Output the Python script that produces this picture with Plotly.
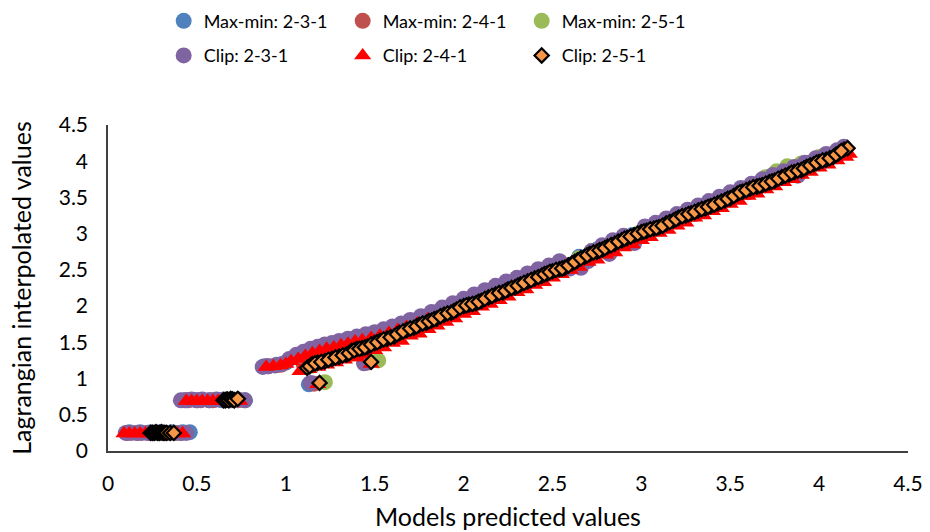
import plotly.graph_objects as go

# ---------------- Max-min normalisation ----------------
mm231_x = [0.12, 0.18, 0.24, 0.30, 0.36, 0.42, 0.46,
           0.43, 0.50, 0.57, 0.64, 0.71, 0.77,
           0.88, 0.95, 1.00,
           1.13, 1.45,
           1.05, 1.15, 1.25, 1.35, 1.45, 1.55, 1.65, 1.75, 1.85, 1.95,
           2.05, 2.15, 2.25, 2.35, 2.45, 2.55, 2.65, 2.75, 2.85, 2.95,
           3.05, 3.15, 3.25, 3.35, 3.45, 3.55, 3.65, 3.75, 3.85, 3.95,
           4.05, 4.13]
mm231_y = [0.26, 0.26, 0.26, 0.26, 0.26, 0.26, 0.26,
           0.70, 0.70, 0.70, 0.70, 0.70, 0.70,
           1.17, 1.19, 1.22,
           0.92, 1.22,
           1.30, 1.40, 1.47, 1.54, 1.60, 1.64, 1.71, 1.80, 1.89, 1.99,
           2.09, 2.19, 2.29, 2.39, 2.49, 2.59, 2.68, 2.78, 2.88, 2.98,
           3.08, 3.18, 3.28, 3.38, 3.48, 3.58, 3.68, 3.78, 3.88, 3.98,
           4.08, 4.16]

mm241_x = [0.11, 0.17, 0.23, 0.29, 0.35, 0.41,
           0.45, 0.52, 0.59, 0.66, 0.73,
           0.90, 0.97,
           1.16, 1.46,
           1.10, 1.20, 1.30, 1.40, 1.50, 1.60, 1.70, 1.80, 1.90, 2.00,
           2.10, 2.20, 2.30, 2.40, 2.50, 2.60, 2.70, 2.80, 2.90, 3.00,
           3.10, 3.20, 3.30, 3.40, 3.50, 3.60, 3.70, 3.80, 3.90, 4.00,
           4.10]
mm241_y = [0.25, 0.25, 0.25, 0.25, 0.25, 0.25,
           0.70, 0.70, 0.70, 0.70, 0.70,
           1.17, 1.19,
           0.93, 1.22,
           1.20, 1.28, 1.33, 1.39, 1.47, 1.56, 1.66, 1.77, 1.87, 1.97,
           2.07, 2.17, 2.27, 2.37, 2.47, 2.57, 2.67, 2.77, 2.87, 2.97,
           3.07, 3.17, 3.27, 3.37, 3.47, 3.57, 3.67, 3.77, 3.87, 3.97,
           4.07]

mm251_x = [0.27, 0.31, 0.35, 0.39,
           0.67, 0.70, 0.73,
           1.22, 1.52,
           1.15, 1.25, 1.35, 1.45, 1.55, 1.65, 1.75, 1.85, 1.95, 2.05,
           2.15, 2.25, 2.35, 2.45, 2.55, 2.65, 2.72, 2.80, 2.90, 3.00,
           3.10, 3.20, 3.30, 3.40, 3.50, 3.60, 3.70, 3.76, 3.82, 3.90,
           4.00, 4.10]
mm251_y = [0.25, 0.25, 0.25, 0.25,
           0.71, 0.71, 0.71,
           0.95, 1.25,
           1.18, 1.28, 1.36, 1.46, 1.56, 1.67, 1.77, 1.87, 1.97, 2.07,
           2.17, 2.27, 2.37, 2.47, 2.57, 2.66, 2.76, 2.83, 2.93, 3.03,
           3.13, 3.23, 3.33, 3.43, 3.53, 3.63, 3.78, 3.86, 3.93, 3.97,
           4.06, 4.14]

# ---------------- Clip normalisation ----------------
clip231_x = [0.10, 0.13, 0.16, 0.19, 0.22, 0.26, 0.30, 0.34, 0.38, 0.41, 0.44,
             0.41, 0.44, 0.47, 0.50, 0.53, 0.57, 0.61, 0.65, 0.69, 0.73, 0.77,
             0.87, 0.90, 0.94, 0.98, 1.02,
             1.14, 1.44,
             1.06, 1.10, 1.14, 1.18, 1.22, 1.26, 1.30, 1.35, 1.40, 1.45,
             1.50, 1.55, 1.60, 1.65, 1.70, 1.76, 1.82, 1.88, 1.94, 2.00,
             2.06, 2.12, 2.18, 2.24, 2.30, 2.36, 2.42, 2.48, 2.54,
             2.60, 2.66, 2.72, 2.78, 2.84, 2.90, 2.96, 3.02, 3.08, 3.14,
             3.20, 3.26, 3.32, 3.38, 3.44, 3.50, 3.56, 3.62, 3.68, 3.74,
             3.80, 3.86, 3.92, 3.98, 4.04, 4.10, 4.14,
             2.70, 2.82, 3.00, 3.88]
clip231_y = [0.25, 0.25, 0.25, 0.25, 0.25, 0.25, 0.25, 0.25, 0.25, 0.25, 0.25,
             0.70, 0.70, 0.71, 0.70, 0.71, 0.70, 0.71, 0.71, 0.70, 0.71, 0.70,
             1.16, 1.17, 1.18, 1.20, 1.27,
             0.94, 1.21,
             1.33, 1.37, 1.41, 1.44, 1.47, 1.49, 1.52, 1.55, 1.58, 1.61,
             1.64, 1.68, 1.72, 1.76, 1.81, 1.86, 1.92, 1.98, 2.04, 2.10,
             2.16, 2.22, 2.28, 2.34, 2.39, 2.45, 2.51, 2.56, 2.62,
             2.52, 2.53, 2.76, 2.84, 2.91, 2.97, 2.87, 3.10, 3.15, 3.21,
             3.27, 3.33, 3.39, 3.45, 3.51, 3.57, 3.63, 3.69, 3.75, 3.81,
             3.86, 3.92, 3.98, 4.04, 4.10, 4.15, 4.20,
             2.62, 2.72, 2.99, 3.80]

clip241_x = [0.09, 0.12, 0.15, 0.18, 0.21, 0.24, 0.27, 0.30, 0.33, 0.36, 0.39, 0.42,
             0.44, 0.47, 0.50, 0.53, 0.56, 0.59, 0.62, 0.65, 0.68, 0.71, 0.74,
             0.89, 0.93, 0.97, 1.00,
             1.18, 1.48,
             1.03, 1.07, 1.11, 1.15, 1.19, 1.23, 1.27, 1.31, 1.35, 1.39,
             1.43, 1.48, 1.53, 1.58, 1.63, 1.68, 1.74, 1.80,
             1.08, 1.13, 1.18, 1.23, 1.28, 1.33, 1.38,
             1.40, 1.45, 1.50, 1.55, 1.60, 1.65, 1.70, 1.75, 1.80, 1.85,
             1.90, 1.95, 2.00, 2.05, 2.10, 2.15, 2.20, 2.25, 2.30, 2.35,
             2.40, 2.45, 2.50, 2.55, 2.60, 2.65, 2.70, 2.75, 2.80, 2.85,
             2.90, 2.95, 3.00, 3.05, 3.10, 3.15, 3.20, 3.25, 3.30, 3.35,
             3.40, 3.45, 3.50, 3.55, 3.60, 3.65, 3.70, 3.75, 3.80, 3.85,
             3.90, 3.95, 4.00, 4.05, 4.10, 4.15,
             4.17]
clip241_y = [0.24, 0.24, 0.24, 0.24, 0.24, 0.24, 0.24, 0.24, 0.24, 0.24, 0.24, 0.24,
             0.69, 0.69, 0.69, 0.69, 0.69, 0.69, 0.69, 0.69, 0.69, 0.69, 0.69,
             1.16, 1.17, 1.18, 1.20,
             0.92, 1.20,
             1.24, 1.27, 1.31, 1.35, 1.38, 1.41, 1.43, 1.46, 1.48, 1.51,
             1.53, 1.56, 1.59, 1.63, 1.67, 1.71, 1.76, 1.82,
             1.10, 1.13, 1.16, 1.19, 1.22, 1.26, 1.29,
             1.29, 1.33, 1.39, 1.43, 1.49, 1.52, 1.59, 1.62, 1.68, 1.73,
             1.78, 1.83, 1.89, 1.93, 1.99, 2.03, 2.08, 2.13, 2.19, 2.23,
             2.29, 2.33, 2.39, 2.44, 2.50, 2.54, 2.61, 2.64, 2.71, 2.74,
             2.81, 2.85, 2.91, 2.95, 3.01, 3.05, 3.11, 3.15, 3.22, 3.25,
             3.31, 3.35, 3.41, 3.45, 3.52, 3.55, 3.61, 3.65, 3.71, 3.75,
             3.81, 3.85, 3.91, 3.95, 4.01, 4.06,
             4.10]

clip251_x = [0.24, 0.25, 0.26, 0.27, 0.28, 0.29, 0.30, 0.31, 0.32, 0.33, 0.35, 0.37,
             0.65, 0.66, 0.67, 0.68, 0.69, 0.70, 0.71, 0.73,
             1.19, 1.48,
             1.12, 1.15, 1.18, 1.22, 1.26, 1.30, 1.34, 1.37, 1.40, 1.43,
             1.46, 1.50, 1.53, 1.57, 1.61, 1.64, 1.68, 1.72, 1.75, 1.79,
             1.82, 1.85, 1.89, 1.93, 1.96, 2.00, 2.03, 2.07, 2.10, 2.14,
             2.18, 2.22, 2.25, 2.29, 2.32, 2.36, 2.40, 2.44, 2.47, 2.50,
             2.54, 2.57, 2.61, 2.64, 2.68, 2.71, 2.75, 2.78, 2.81, 2.85,
             2.89, 2.92, 2.96, 3.00, 3.03, 3.07, 3.10, 3.14, 3.18, 3.21,
             3.25, 3.28, 3.32, 3.36, 3.39, 3.43, 3.47, 3.50, 3.54, 3.57,
             3.61, 3.65, 3.68, 3.72, 3.75, 3.79, 3.83, 3.86, 3.90, 3.93,
             3.97, 4.00, 4.04, 4.08, 4.11, 4.14, 4.16,
             1.135, 1.165, 1.20, 1.24, 1.28, 1.32, 1.355, 1.385, 1.415, 1.445,
             1.48, 1.515, 1.55, 1.59, 1.625, 1.66, 1.70, 1.735, 1.77, 1.805,
             1.835, 1.87, 1.91, 1.945, 1.98, 2.015, 2.05, 2.085, 2.12, 2.16,
             2.20, 2.235, 2.27, 2.305, 2.34, 2.38, 2.42, 2.455, 2.485, 2.52,
             2.555, 2.59, 2.625, 2.66, 2.695, 2.73, 2.765, 2.795, 2.83, 2.87,
             2.905, 2.94, 2.98, 3.015, 3.05, 3.085, 3.12, 3.16, 3.195, 3.23,
             3.265, 3.30, 3.34, 3.375, 3.41, 3.45, 3.485, 3.52, 3.555, 3.59,
             3.63, 3.665, 3.70, 3.735, 3.77, 3.81, 3.845, 3.88, 3.915, 3.95,
             3.985, 4.02, 4.06, 4.095, 4.125]
clip251_y = [0.25, 0.25, 0.25, 0.26, 0.25, 0.25, 0.26, 0.25, 0.25, 0.25, 0.25, 0.25,
             0.70, 0.70, 0.71, 0.70, 0.72, 0.71, 0.70, 0.72,
             0.94, 1.23,
             1.15, 1.20, 1.22, 1.24, 1.27, 1.30, 1.33, 1.38, 1.41, 1.42,
             1.44, 1.49, 1.52, 1.55, 1.58, 1.63, 1.67, 1.70, 1.74, 1.77,
             1.80, 1.83, 1.88, 1.91, 1.95, 2.00, 2.02, 2.04, 2.07, 2.12,
             2.16, 2.19, 2.23, 2.26, 2.30, 2.34, 2.38, 2.42, 2.45, 2.48,
             2.51, 2.53, 2.59, 2.63, 2.68, 2.72, 2.75, 2.78, 2.82, 2.86,
             2.91, 2.94, 2.98, 3.02, 3.04, 3.07, 3.09, 3.14, 3.18, 3.22,
             3.25, 3.28, 3.32, 3.35, 3.38, 3.42, 3.46, 3.49, 3.55, 3.58,
             3.62, 3.65, 3.67, 3.71, 3.73, 3.78, 3.82, 3.85, 3.88, 3.92,
             3.96, 3.99, 4.02, 4.06, 4.11, 4.16, 4.18,
             1.17, 1.21, 1.23, 1.26, 1.29, 1.32, 1.35, 1.39, 1.41, 1.43,
             1.47, 1.50, 1.54, 1.57, 1.61, 1.65, 1.69, 1.72, 1.76, 1.79,
             1.82, 1.86, 1.90, 1.93, 1.98, 2.01, 2.03, 2.06, 2.10, 2.14,
             2.18, 2.21, 2.25, 2.28, 2.32, 2.36, 2.40, 2.44, 2.47, 2.50,
             2.52, 2.56, 2.61, 2.66, 2.70, 2.74, 2.77, 2.80, 2.84, 2.89,
             2.93, 2.96, 3.00, 3.03, 3.06, 3.08, 3.11, 3.16, 3.20, 3.24,
             3.27, 3.30, 3.34, 3.37, 3.40, 3.44, 3.48, 3.52, 3.57, 3.60,
             3.64, 3.66, 3.69, 3.72, 3.76, 3.80, 3.84, 3.87, 3.90, 3.94,
             3.98, 4.01, 4.04, 4.09, 4.14]

x_ticks = [0, 0.5, 1, 1.5, 2, 2.5, 3, 3.5, 4, 4.5]
y_ticks = [0, 0.5, 1, 1.5, 2, 2.5, 3, 3.5, 4, 4.5]

FONT = "Lato, Carlito, 'Open Sans', sans-serif"

fig = go.Figure()


def add(name, xs, ys, marker, legend):
    fig.add_trace(go.Scatter(x=xs, y=ys, mode="markers", name=name,
                             marker=marker, legend=legend, hoverinfo="x+y+name"))


add("Max-min: 2-3-1", mm231_x, mm231_y,
    dict(symbol="circle", size=16, color="#4F81BD", line=dict(width=0)), "legend")
add("Max-min: 2-4-1", mm241_x, mm241_y,
    dict(symbol="circle", size=16, color="#C0504D", line=dict(width=0)), "legend")
add("Max-min: 2-5-1", mm251_x, mm251_y,
    dict(symbol="circle", size=16, color="#9BBB59", line=dict(width=0)), "legend")
add("Clip: 2-3-1", clip231_x, clip231_y,
    dict(symbol="circle", size=16, color="#8064A2", line=dict(width=0)), "legend2")
add("Clip: 2-4-1", clip241_x, clip241_y,
    dict(symbol="triangle-up", size=15, color="#FF0000", line=dict(width=0)), "legend2")
add("Clip: 2-5-1", clip251_x, clip251_y,
    dict(symbol="diamond", size=11, color="#F79646", line=dict(width=2.2, color="#000000")),
    "legend2")

legend_common = dict(orientation="h", xref="container", yref="container",
                     xanchor="left", yanchor="top", entrywidth=134,
                     entrywidthmode="pixels", bgcolor="rgba(0,0,0,0)",
                     font=dict(family=FONT, size=18, color="#000000"),
                     itemclick=False, itemdoubleclick=False)

fig.update_layout(
    width=930, height=532,
    margin=dict(l=108, r=22, t=125, b=81),
    plot_bgcolor="white", paper_bgcolor="white",
    font=dict(family=FONT, size=18, color="#000000"),
    showlegend=True,
    legend=dict(x=0.176, y=0.995, **legend_common),
    legend2=dict(x=0.176, y=0.93, **legend_common),
)

fig.update_xaxes(
    range=[0, 4.5], tickmode="array", tickvals=x_ticks,
    ticktext=[f"{v:g}" for v in x_ticks],
    showline=True, linecolor="#404040", linewidth=1.5,
    showgrid=False, zeroline=False, ticks="", automargin=False,
    tickfont=dict(family=FONT, size=21, color="#000000"),
    ticklabelstandoff=13,
    title=dict(text="Models predicted values", standoff=15,
               font=dict(family=FONT, size=25, color="#000000")),
)
fig.update_yaxes(
    range=[0, 4.5], tickmode="array", tickvals=y_ticks,
    ticktext=[f"{v:g}" for v in y_ticks],
    showline=True, linecolor="#404040", linewidth=1.5,
    showgrid=False, zeroline=False, ticks="", automargin=False,
    tickfont=dict(family=FONT, size=21, color="#000000"),
    ticklabelstandoff=14,
    title=dict(text="Lagrangian interpolated values", standoff=20,
               font=dict(family=FONT, size=25, color="#000000")),
)

fig.write_html("out.html")
